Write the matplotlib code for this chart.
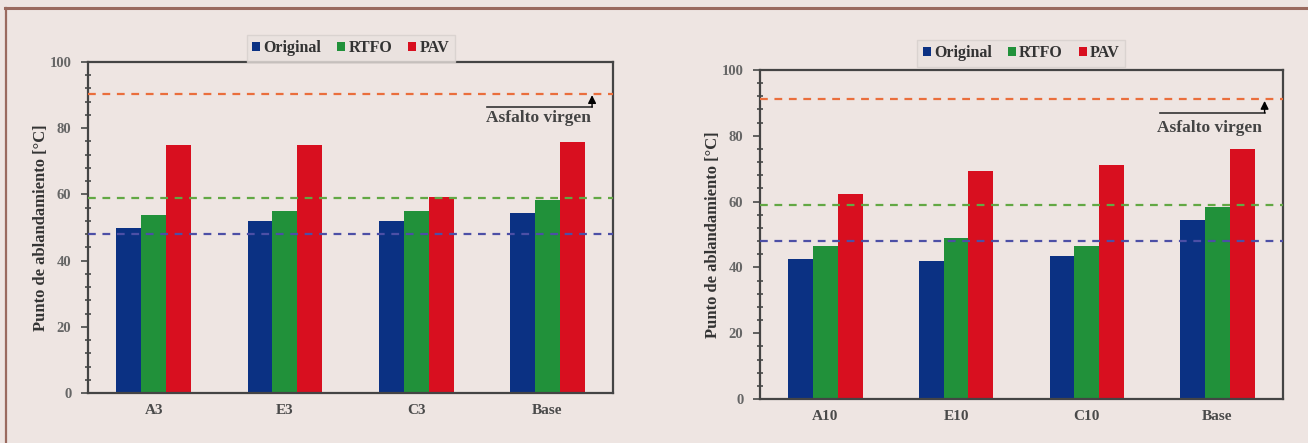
import matplotlib
matplotlib.use("Agg")
import matplotlib.pyplot as plt
import numpy as np
from matplotlib.ticker import MultipleLocator

# ---- data ----
series = ["Original", "RTFO", "PAV"]
cats_left = ["A3", "E3", "C3", "Base"]
orig_left = [49.8, 52.0, 52.0, 54.3]
rtfo_left = [53.8, 55.0, 55.0, 58.4]
pav_left = [74.8, 74.8, 59.3, 75.8]
ref_left = {"PAV": 90.4, "RTFO": 58.9, "Original": 47.9}

cats_right = ["A10", "E10", "C10", "Base"]
orig_right = [42.5, 41.9, 43.6, 54.3]
rtfo_right = [46.5, 48.8, 46.6, 58.4]
pav_right = [62.3, 69.2, 71.2, 76.0]
ref_right = {"PAV": 91.2, "RTFO": 59.0, "Original": 48.0}

yticks = [0, 20, 40, 60, 80, 100]

# ---- style ----
BG = "#EEE5E2"
bar_colors = {"Original": "#0B3183", "RTFO": "#21913A", "PAV": "#D80F1F"}
ref_colors = {"PAV": "#EA6E3C", "RTFO": "#62A844", "Original": "#4C4FA6"}
TXT = "#4a4a4a"
plt.rcParams["font.family"] = ["Liberation Serif", "DejaVu Serif"]

fig = plt.figure(figsize=(13.08, 4.43), dpi=100, facecolor=BG)

# border lines (top and left)
fig.add_artist(plt.Line2D([0.004, 1.0], [0.981, 0.981], transform=fig.transFigure,
                          color="#9A6A5F", lw=2.2))
fig.add_artist(plt.Line2D([0.0046, 0.0046], [0.0, 0.981], transform=fig.transFigure,
                          color="#9A6A5F", lw=1.6))


def panel(rect, cats, vals, refs, leg_y, ann):
    ax = fig.add_axes(rect)
    ax.set_facecolor(BG)
    x = np.arange(len(cats))
    w = 0.19
    for i, s in enumerate(series):
        ax.bar(x + (i - 1) * w, vals[i], width=w, color=bar_colors[s], label=s, zorder=2)
    for s in ["PAV", "RTFO", "Original"]:
        ax.axhline(refs[s], color=ref_colors[s], ls=(0, (3.5, 3)), lw=1.6, zorder=3)
    ax.set_xlim(-0.5, len(cats) - 0.5)
    ax.set_ylim(0, 100)
    ax.set_yticks(yticks)
    ax.yaxis.set_minor_locator(MultipleLocator(4))
    ax.set_xticks(x)
    ax.set_xticklabels(cats, fontweight="bold", color=TXT, fontsize=11)
    ax.tick_params(axis="x", length=0, pad=8)
    ax.tick_params(axis="y", which="major", direction="out", length=5, width=1.3,
                   colors="#555555", labelsize=10.5, pad=7)
    ax.tick_params(axis="y", which="minor", direction="inout", length=4.5, width=1.3,
                   colors="#555555")
    for lab in ax.get_yticklabels():
        lab.set_fontweight("bold")
        lab.set_color("#666666")
    for sp in ax.spines.values():
        sp.set_color("#444444")
        sp.set_linewidth(1.6)
    ax.set_ylabel("Punto de ablandamiento [°C]", fontweight="bold", fontsize=12,
                  color="#333333", labelpad=0)
    # annotation
    x0, x1, yl, ytip, xt, yt = ann
    ax.plot([x0, x1], [yl, yl], color="#333333", lw=1.2, zorder=4)
    ax.annotate("", xy=(x1, ytip), xytext=(x1, yl),
                arrowprops=dict(arrowstyle="-|>", color="black", lw=1.0,
                                mutation_scale=12, shrinkA=0, shrinkB=0), zorder=4)
    ax.text(xt, yt, "Asfalto virgen", ha="center", va="center", fontsize=12.5,
            color="#444444", fontweight="bold", zorder=4)
    leg = ax.legend(loc="lower center", bbox_to_anchor=(0.5, leg_y), ncol=3,
                    handlelength=0.5, handleheight=0.5, handletextpad=0.2,
                    columnspacing=1.0, fontsize=11.5, frameon=True, fancybox=False,
                    borderpad=0.35, borderaxespad=0.0,
                    prop={"weight": "bold", "size": 11.5})
    leg.get_frame().set_facecolor("#EAE2DF")
    leg.get_frame().set_edgecolor("#D6CFCC")
    for t in leg.get_texts():
        t.set_color("#333333")
    return ax


panel([0.0673, 0.1129, 0.4014, 0.7471], cats_left,
      [orig_left, rtfo_left, pav_left], ref_left, 1.0,
      (2.54, 3.34, 86.4, 90.0, 2.93, 83.0))
panel([0.5810, 0.0993, 0.3998, 0.7427], cats_right,
      [orig_right, rtfo_right, pav_right], ref_right, 1.01,
      (2.56, 3.36, 87.0, 90.6, 2.94, 82.4))

fig.savefig("out.png", dpi=100, facecolor=BG)
